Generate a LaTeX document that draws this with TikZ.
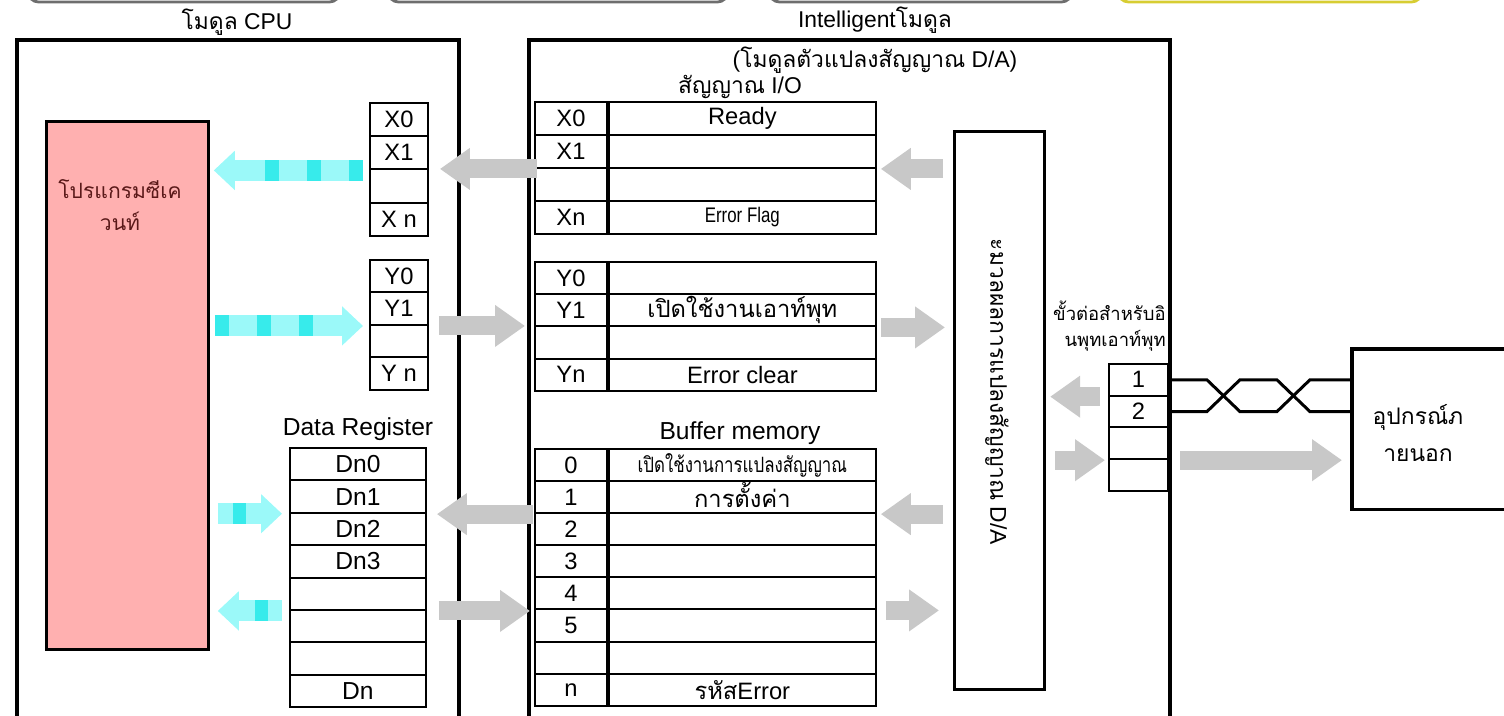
\documentclass[tikz,border=0pt]{standalone}
\usepackage{fontspec}
\usepackage{graphicx}
\setmainfont{Liberation Sans}
\newfontfamily\thaifont[Script=Thai]{Loma}
\newfontfamily\thaicond[Script=Thai,FakeStretch=0.8]{Loma}
\usetikzlibrary{arrows.meta,positioning,calc}
\definecolor{plcgray}{RGB}{200,200,200}
\definecolor{cylight}{RGB}{155,249,249}
\definecolor{cybright}{RGB}{55,235,235}
\definecolor{progpink}{RGB}{255,176,176}
\definecolor{progtext}{RGB}{90,25,25}
\definecolor{tabgray}{RGB}{110,110,110}
\definecolor{tabyellow}{RGB}{215,205,50}

\begin{document}
\begin{tikzpicture}[
    x=0.02cm, y=-0.02cm,
    modbox/.style={draw, line width=2.2pt, inner sep=0pt, anchor=north west},
    cell/.style={draw, line width=1.1pt, inner sep=0pt, anchor=north west, font=\fontsize{13.5}{15}\selectfont},
    ttl/.style={font=\fontsize{13}{15}\selectfont, inner sep=0pt},
    thlbl/.style={font=\fontsize{13}{18}\thaifont, inner sep=0pt, align=center},
    garrow/.style={draw=plcgray, line width=0.38cm, -{Triangle[length=0.6cm, width=0.8cm]}},
    carrow/.style={draw=cylight, line width=0.42cm, -{Triangle[length=0.42cm, width=0.76cm]}},
    cseg/.style={draw=cybright, line width=0.42cm, dash pattern=on 0.28cm off 0.56cm},
    wire/.style={line width=1.7pt, line join=miter}
  ]
  \useasboundingbox (0,0) rectangle (1504,716);
  \clip (0,0) rectangle (1504,716);

  % tabs cut at the top edge
  \foreach \xa/\xb/\col in {28/340/tabgray,388/728/tabgray,769/1072/tabgray,1118/1422/tabyellow}
    \draw[line width=1.6pt, draw=\col, rounded corners=6pt] (\xa,-40) rectangle (\xb,2);

  % modules
  \node[modbox, minimum width=8.84cm, minimum height=14cm] (cpu) at (15,38) {};
  \node[ttl] (cputitle) at (237,22) {{\thaifont โมดูล} CPU};
  \node[modbox, minimum width=12.82cm, minimum height=14cm] (intel) at (527,38) {};
  \node[ttl] (inteltitle) at (875,20) {Intelligent{\thaifont โมดูล}};
  \node[ttl] (intelsub) at (875,60) {({\thaifont โมดูลตัวแปลงสัญญาณ} D/A)};
  \node[ttl] (iotitle) at (740,87) {{\thaifont สัญญาณ} I/O};

  % sequence program
  \node[draw, line width=1.6pt, fill=progpink, anchor=north west, minimum width=3.24cm, minimum height=10.56cm] (prog) at (45,120) {};
  \node[thlbl, font=\fontsize{12}{18}\thaifont, text=progtext] (progtext) at (120,205) {โปรแกรมซีเค\\วนท์};

  % CPU side X / Y
  \foreach \t [count=\i] in {X0,X1,{},X n}
    \node[cell, minimum width=1.16cm, minimum height=0.665cm] (cx\i) at (369,{102+(\i-1)*33.25}) {\t};
  \foreach \t [count=\i] in {Y0,Y1,{},Y n}
    \node[cell, minimum width=1.16cm, minimum height=0.65cm] (cy\i) at (369,{259+(\i-1)*32.5}) {\t};

  % data register
  \node[ttl, font=\fontsize{14}{16}\selectfont] (drtitle) at (358,429) {Data Register};
  \foreach \t [count=\i] in {Dn0,Dn1,Dn2,Dn3,{},{},{},Dn}
    \node[cell, font=\fontsize{14}{16}\selectfont, minimum width=2.72cm, minimum height=0.648cm] (dr\i) at (289,{447+(\i-1)*32.4}) {\t};

  % intelligent module X / Y
  \foreach \t/\d [count=\i] in {X0/Ready,X1/{},{}/{},Xn/{\fontsize{12}{14}\selectfont\scalebox{0.8}[1]{Error Flag}}} {
    \node[cell, minimum width=1.44cm, minimum height=0.66cm] (ix\i) at (534,{101+(\i-1)*33}) {\t};
    \node[cell, minimum width=5.34cm, minimum height=0.66cm, right=0pt of ix\i] (ixd\i) {\d};
  }
  \foreach \t/\d [count=\i] in {Y0/{},Y1/{\thaifont เปิดใช้งานเอาท์พุท},{}/{},Yn/Error clear} {
    \node[cell, minimum width=1.44cm, minimum height=0.645cm] (iy\i) at (534,{261+(\i-1)*32.25}) {\t};
    \node[cell, minimum width=5.34cm, minimum height=0.645cm, right=0pt of iy\i] (iyd\i) {\d};
  }

  % buffer memory
  \node[ttl, font=\fontsize{14}{16}\selectfont] (bmtitle) at (740,433) {Buffer memory};
  \foreach \t/\d [count=\i] in {0/{\fontsize{12}{14}\thaicond เปิดใช้งานการแปลงสัญญาณ},1/{\raisebox{2pt}{\thaifont การตั้งค่า}},2/{},3/{},4/{},5/{},{}/{},n/{{\thaifont รหัส}Error}} {
    \node[cell, minimum width=1.44cm, minimum height=0.642cm] (bn\i) at (534,{448+(\i-1)*32.1}) {\t};
    \node[cell, minimum width=5.34cm, minimum height=0.642cm, right=0pt of bn\i] (bd\i) {\d};
  }

  % D/A conversion
  \node[draw, line width=1.8pt, anchor=north west, minimum width=1.8cm, minimum height=11.16cm] (da) at (953,130) {};
  \node[font=\fontsize{13}{15}\selectfont, rotate=-90] (datext) at (997,392) {{\thaifont ะมวลผลการแปลงสัญญาณ} D/A};

  % terminal block
  \node[font=\fontsize{10.5}{15}\thaifont, align=right, anchor=south east, inner sep=0pt] (cnlabel) at (1166,352) {ขั้วต่อสำหรับอิ\\นพุทเอาท์พุท};
  \foreach \t [count=\i] in {1,2,{},{}}
    \node[cell, minimum width=1.18cm, minimum height=0.635cm] (cn\i) at (1108,{363+(\i-1)*31.75}) {\t};

  % external device
  \node[draw, line width=2pt, anchor=north west, minimum width=5cm, minimum height=3.22cm] (ext) at (1350,347) {};
  \node[thlbl, font=\fontsize{13}{21}\thaifont] (exttext) at (1418,433) {อุปกรณ์ภ\\ายนอก};

  \draw[wire] (cn1.east) -- ++(38,0) -- ++(33,31.75) -- ++(37,0) -- ++(33,-31.75) -- (cn1.east -| ext.west);
  \draw[wire] (cn2.east) -- ++(38,0) -- ++(33,-31.75) -- ++(37,0) -- ++(33,31.75) -- (cn2.east -| ext.west);

  % gray data flow
  \draw[garrow, shorten <=-0.06cm, shorten >=0.22cm] (ix2.south west) -- (ix2.south west -| cx2.east);
  \draw[garrow, shorten <=0.2cm, shorten >=0.18cm] (cy2.south east) -- (cy2.south east -| iy2.west);
  \draw[garrow, shorten <=0.2cm, shorten >=0.08cm] (ixd2.south east -| da.west) -- (ixd2.south east);
  \draw[garrow, shorten <=0.08cm, shorten >=0.16cm] (iyd2.south east) -- (iyd2.south east -| da.west);
  \draw[garrow, shorten <=0.2cm, shorten >=0.08cm] (bd2.south east -| da.west) -- (bd2.south east);
  \draw[garrow, shorten <=0.18cm, shorten >=0.28cm] (bd5.south east) -- (bd5.south east -| da.west);
  \draw[garrow, shorten <=0.02cm, shorten >=0.2cm] (bn2.south west) -- (bn2.south west -| dr2.east);
  \draw[garrow, shorten <=0.24cm, shorten >=0.08cm] (dr5.south east) -- (dr5.south east -| bn5.west);
  \draw[garrow, shorten <=0.16cm, shorten >=0.08cm] (cn1.south west) -- (cn1.south west -| da.east);
  \draw[garrow, shorten <=0.18cm, shorten >=0.06cm] (cn3.south west -| da.east) -- (cn3.south west);
  \draw[garrow, shorten <=0.22cm, shorten >=0.16cm] (cn3.south east) -- (cn3.south east -| ext.west);

  % cyan program access
  \draw[carrow, shorten <=0.12cm, shorten >=0.08cm] (cx2.south west) -- (cx2.south west -| prog.east);
  \draw[cseg] ($(cx2.south west)+(-6,0)$) -- ++(-98,0);
  \draw[carrow, shorten <=0.1cm, shorten >=0.12cm] (cy2.south west -| prog.east) -- (cy2.south west);
  \draw[cseg] ($(cy2.south west -| prog.east)+(5,0)$) -- ++(98,0);
  \draw[carrow, shorten <=0.16cm, shorten >=0.14cm] (dr2.south west -| prog.east) -- (dr2.south west);
  \draw[cseg] ($(dr2.south west -| prog.east)+(23,0)$) -- ++(13,0);
  \draw[carrow, shorten <=0.14cm, shorten >=0.16cm] (dr5.south west) -- (dr5.south west -| prog.east);
  \draw[cseg] ($(dr5.south west)+(-21,0)$) -- ++(-13,0);
\end{tikzpicture}
\end{document}
